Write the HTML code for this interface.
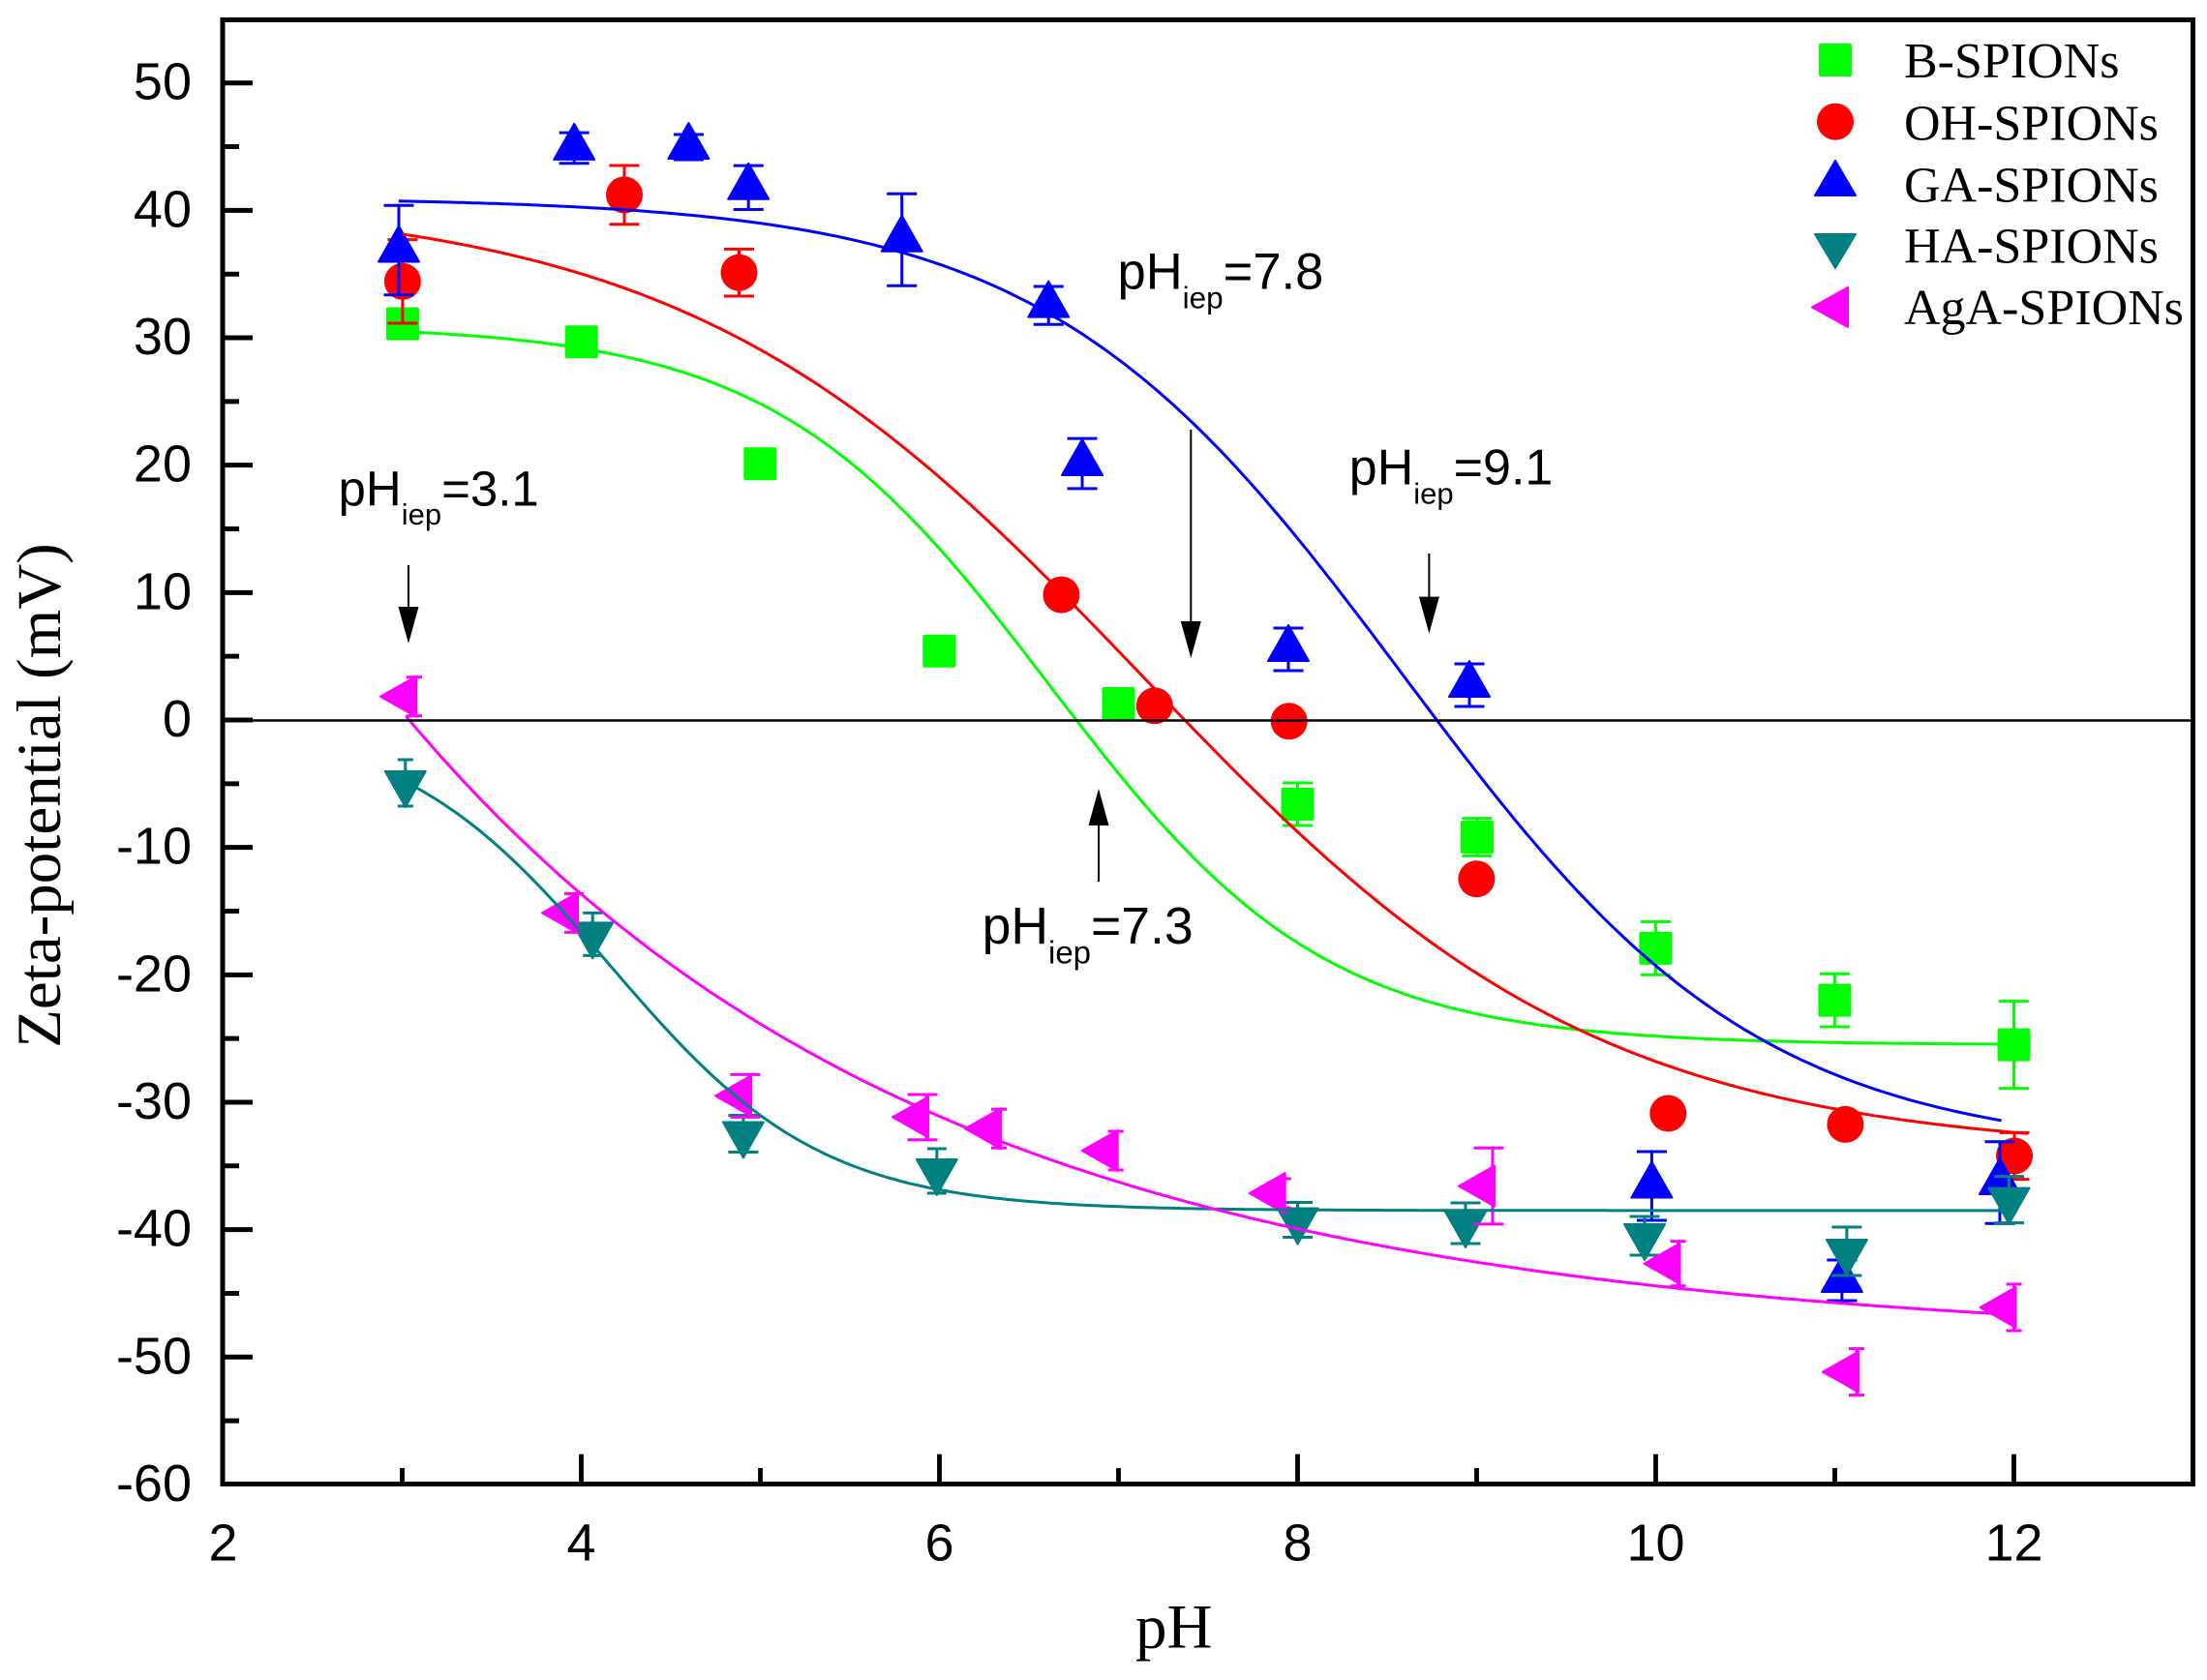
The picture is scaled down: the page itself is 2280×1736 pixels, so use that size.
<!DOCTYPE html>
<html><head><meta charset="utf-8">
<style>
html,body{margin:0;padding:0;background:#fff;}
svg{display:block;}
.t{font-family:"Liberation Sans",Arial,sans-serif;}
.s{font-family:"Liberation Serif","Times New Roman",serif;}
</style></head><body>
<svg id="c" xmlns="http://www.w3.org/2000/svg" width="2280" height="1736" viewBox="0 0 2280 1736">
<rect width="2280" height="1736" fill="#fff"/>
<g id="data"></g>
<g id="curves" fill="none" stroke-width="3" stroke-linejoin="round"></g>
<line x1="232" y1="744.5" x2="2263" y2="744.5" stroke="#000" stroke-width="2.5"/>
<g id="ticks" stroke="#000"></g>
<rect x="230" y="20.5" width="2035.5" height="1513" fill="none" stroke="#000" stroke-width="5"/>

<!-- Y tick labels -->
<g class="t" font-size="54" text-anchor="end" fill="#000">
<text x="198" y="102.7">50</text>
<text x="198" y="234.4">40</text>
<text x="198" y="366">30</text>
<text x="198" y="497.7">20</text>
<text x="198" y="629.3">10</text>
<text x="198" y="761">0</text>
<text x="198" y="892.7">-10</text>
<text x="198" y="1024.3">-20</text>
<text x="198" y="1156">-30</text>
<text x="198" y="1287.6">-40</text>
<text x="198" y="1419.3">-50</text>
<text x="198" y="1551">-60</text>
</g>
<!-- X tick labels -->
<g class="t" font-size="54" text-anchor="middle" fill="#000">
<text x="230.5" y="1612.5">2</text>
<text x="600.5" y="1612.5">4</text>
<text x="970.5" y="1612.5">6</text>
<text x="1340.5" y="1612.5">8</text>
<text x="1710.5" y="1612.5">10</text>
<text x="2080.5" y="1612.5">12</text>
</g>
<!-- Axis titles -->
<text class="s" x="1173" y="1702.7" font-size="65" fill="#000">pH</text>
<text class="s" font-size="65" fill="#000" text-anchor="middle" transform="translate(62,822) rotate(-90)">Zeta-potential (mV)</text>

<!-- Annotations -->
<g class="t" fill="#000">
<text x="349.5" y="522.4" font-size="51">pH<tspan font-size="31" dy="19.5">iep</tspan><tspan font-size="51" dy="-19.5">=3.1</tspan></text>
<text x="1154.5" y="298.7" font-size="52.5">pH<tspan font-size="31.5" dy="20">iep</tspan><tspan font-size="52.5" dy="-20">=7.8</tspan></text>
<text x="1393.8" y="500.4" font-size="52">pH<tspan font-size="31" dy="20">iep</tspan><tspan font-size="52" dy="-20">=9.1</tspan></text>
<text x="1014.6" y="975" font-size="53.5">pH<tspan font-size="33" dy="20.5">iep</tspan><tspan font-size="53.5" dy="-20.5">=7.3</tspan></text>
</g>
<g stroke="#000" stroke-width="2" fill="#000">
<line x1="422" y1="584" x2="422" y2="640"/>
<polygon points="411.5,627 432.5,627 422,665" stroke="none"/>
<line x1="1230.3" y1="444" x2="1230.3" y2="650"/>
<polygon points="1219.8,642 1240.8,642 1230.3,680" stroke="none"/>
<line x1="1476.4" y1="572" x2="1476.4" y2="625"/>
<polygon points="1465.9,616.6 1486.9,616.6 1476.4,654.6" stroke="none"/>
<line x1="1135" y1="911" x2="1135" y2="845"/>
<polygon points="1124.5,853 1145.5,853 1135,815" stroke="none"/>
</g>

<!-- Legend -->
<rect x="1879" y="45" width="34" height="34" rx="2" fill="#00ff00"/>
<circle cx="1896" cy="125.7" r="19" fill="#ff0000"/>
<polygon points="1896,166 1875,202 1917,202" fill="#0000ff" stroke="#0000ff" stroke-width="2" stroke-linejoin="round"/>
<polygon points="1875,242 1917,242 1896,277" fill="#008080" stroke="#008080" stroke-width="2" stroke-linejoin="round"/>
<polygon points="1872,317.5 1909,297 1909,338" fill="#ff00ff" stroke="#ff00ff" stroke-width="2" stroke-linejoin="round"/>
<g class="s" font-size="52" fill="#000">
<text x="1967" y="80">B-SPIONs</text>
<text x="1967" y="144.3">OH-SPIONs</text>
<text x="1967" y="208.3">GA-SPIONs</text>
<text x="1967" y="271.7">HA-SPIONs</text>
<text x="1967" y="335">AgA-SPIONs</text>
</g>
</svg>
<script>
(function(){
var NS='http://www.w3.org/2000/svg';
function el(tag,attrs,parent){var e=document.createElementNS(NS,tag);for(var k in attrs)e.setAttribute(k,attrs[k]);parent.appendChild(e);return e;}
var px=function(x){return 230.5+(x-2)*185;};
var py=function(v){return 744.0-13.166*v;};
var G='#00ff00',R='#ff0000',B='#0000ff',T='#008080',M='#ff00ff';
var data=document.getElementById('data');
function err(cx,cy,e,c,lx,cw,ccx){
  if(!e)return;
  if(lx===undefined)lx=cx;
  if(cw===undefined)cw=15.5;
  if(ccx===undefined)ccx=cx;
  el('line',{x1:lx,y1:cy-e,x2:lx,y2:cy+e,stroke:c,'stroke-width':3},data);
  el('line',{x1:ccx-cw,y1:cy-e,x2:ccx+cw,y2:cy-e,stroke:c,'stroke-width':3},data);
  el('line',{x1:ccx-cw,y1:cy+e,x2:ccx+cw,y2:cy+e,stroke:c,'stroke-width':3},data);
}
function sq(p){el('rect',{x:p[0]-17,y:p[1]-17,width:34,height:34,rx:2,fill:G},data);err(p[0],p[1],p[2],G);}
function ci(p){el('circle',{cx:p[0],cy:p[1],r:19,fill:R},data);err(p[0],p[1],p[2],R);}
function tri(pts,c){el('polygon',{points:pts,fill:c,stroke:c,'stroke-width':2,'stroke-linejoin':'round'},data);}
function up(p){var x=p[0],y=p[1];tri(x+','+(y-25)+' '+(x-21)+','+(y+12)+' '+(x+21)+','+(y+12),B);err(x,y,p[2],B);}
function dn(p){var x=p[0],y=p[1];tri(x+','+(y+25)+' '+(x-21)+','+(y-12)+' '+(x+21)+','+(y-12),T);err(x,y,p[2],T,x,p[3]||15.5);}
function lf(p){var x=p[0],y=p[1];tri((x-25)+','+y+' '+(x+12)+','+(y-21)+' '+(x+12)+','+(y+21),M);err(x,y,p[2],M,x+10,p[3]||13,x+(p[4]||6));}
var green=[[416,334.5,0],[600.7,353.2,0],[785.3,479.2,0],[970.3,672.8,0],[1155.5,727,0],[1340.5,831,22],[1525.9,865,19.4],[1710.4,979.9,27.4],[1895.4,1033.6,27.4],[2080.5,1079.6,45]];
var red=[[415.9,290.8,43.2],[645,201.4,30.4],[763.5,281.7,24.3],[1096.4,614.6,0],[1192.8,729.3,0],[1331.7,745.3,0],[1525.4,908.2,0],[1723.3,1150.5,0],[1906.4,1161.9,0],[2081,1194.5,24.1]];
var blue=[[412,258.5,46.3],[593.2,152.9,15.8],[711.4,152,13],[773.2,193.8,22.7],[931.7,247.8,47.5],[1083.2,315.6,19.6],[1118,479,25.9],[1331,671,22],[1518,708,22],[1706.4,1225.5,35.5],[1902.9,1323,21],[2066,1222,42.3]];
var teal=[[418.8,809,24,8],[612.2,965.4,22,10],[767.9,1171.5,19],[967.8,1210,23,10],[1340.6,1260.5,18],[1514,1264,21],[1699,1277,20],[1907.9,1293,25],[2075.5,1239.6,24]];
var mag=[[418,719.7,20,8,10],[585,943.4,20,10,8],[764,1132.4,22,15.5,0],[947,1154.4,23.4,15.5,0],[1022,1166.2,20,8,10],[1142.7,1189,20,8,10],[1315.7,1233,15,8,10],[1532,1225.6,39.3,15.5,0],[1723.5,1305.7,23,8,10],[1908,1417.6,24,8,10],[2070.6,1351,24,8,10]];
green.forEach(sq);red.forEach(ci);blue.forEach(up);teal.forEach(dn);mag.forEach(lf);

var cv=document.getElementById('curves');
function boltz(A1,A2,x0,dx){return function(x){return A2+(A1-A2)/(1+Math.exp((x-x0)/dx));};}
function curve(f,a,b,c){var d='';for(var i=0;i<=300;i++){var x=a+(b-a)*i/300;d+=(i?'L':'M')+px(x).toFixed(1)+','+py(f(x)).toFixed(1);}el('path',{d:d,stroke:c},cv);}
curve(boltz(31,-25.5,6.614,0.77),3.0,12.0,G);
curve(boltz(41,-34,7.13,1.28),3.0,12.08,R);
curve(boltz(41,-34,8.59,1.0),2.98,11.93,B);
curve(boltz(0,-38.5,4.16,0.59),3.08,11.93,T);
curve(function(x){return -49+49.15*Math.exp(-(x-3.03)/2.94);},3.02,11.93,M);

var tk=document.getElementById('ticks');
for(var v=50;v>=-50;v-=10){el('line',{x1:230,y1:py(v),x2:261,y2:py(v),'stroke-width':5},tk);}
for(var v=45;v>=-55;v-=10){el('line',{x1:230,y1:py(v),x2:247,y2:py(v),'stroke-width':5},tk);}
for(var x=4;x<=12;x+=2){el('line',{x1:px(x),y1:1533.5,x2:px(x),y2:1502.6,'stroke-width':4.8},tk);}
for(var x=3;x<=12;x+=2){el('line',{x1:px(x),y1:1533.5,x2:px(x),y2:1517,'stroke-width':4.8},tk);}
})();
</script>
</body></html>
